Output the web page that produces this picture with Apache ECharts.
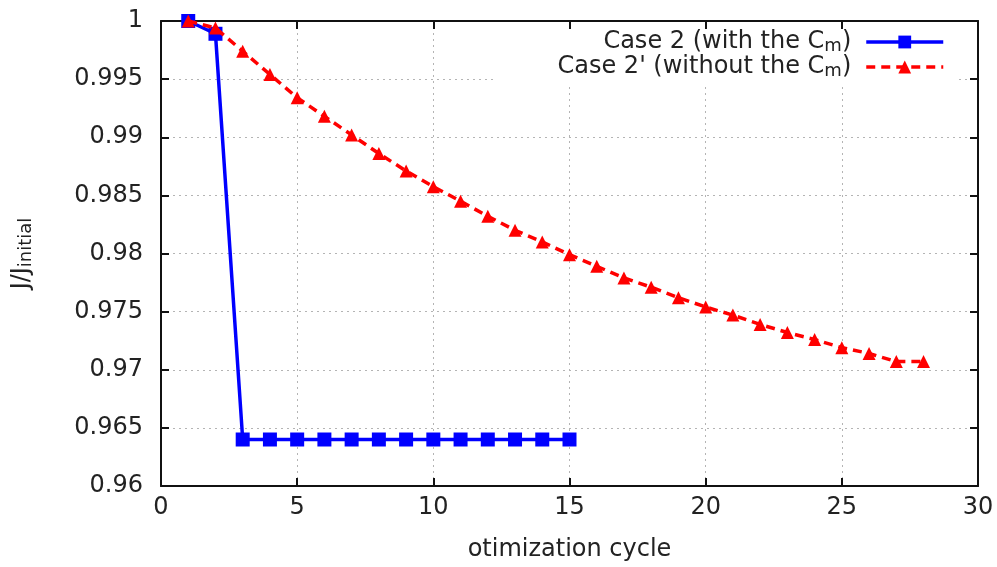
<!DOCTYPE html>
<html>
<head>
<meta charset="utf-8">
<script src="https://cdn.jsdelivr.net/npm/echarts@6/dist/echarts.min.js"></script>
<style>
  html, body { margin: 0; padding: 0; background: #fff; }
  #chart { width: 997px; height: 567px; }
</style>
</head>
<body>
<div id="chart"></div>
<script>
// Optimization history of the normalized objective J/J_initial
const cycles = [1, 2, 3, 4, 5, 6, 7, 8, 9, 10, 11, 12, 13, 14, 15, 16, 17, 18, 19, 20, 21, 22, 23, 24, 25, 26, 27, 28];

// Case 2: with the C_m constraint (15 cycles)
const case2Values = [1.0, 0.9989, 0.964, 0.964, 0.964, 0.964, 0.964, 0.964, 0.964, 0.964, 0.964, 0.964, 0.964, 0.964, 0.964];

// Case 2': without the C_m constraint (28 cycles)
const case2pValues = [1.0, 0.9994, 0.9974, 0.9954, 0.9934, 0.9918, 0.9902, 0.9886, 0.9871, 0.98575, 0.9845, 0.9832, 0.9820, 0.9810, 0.9799,
  0.9789, 0.9779, 0.9771, 0.9762, 0.9754, 0.9747, 0.9739, 0.9732, 0.9726, 0.9719, 0.9714, 0.9707, 0.9707];

const xTicks = { min: 0, max: 30, interval: 5 };
const yTicks = { min: 0.96, max: 1.0, interval: 0.005 };

// legend entries: base text followed by the subscript "m" of C_m
const seriesBase = ['Case 2 (with the C', "Case 2' (without the C"];
const seriesNames = seriesBase.map(b => b + 'm)');

function pairs(values) {
  return values.map((v, i) => [cycles[i], v]);
}

const FONT = 'DejaVu Sans';
const txt = { fontFamily: FONT, fontSize: 24, color: '#222', lineHeight: 26, verticalAlign: 'middle' };
const sub = { fontFamily: FONT, fontSize: 18, color: '#222', lineHeight: 12, verticalAlign: 'bottom' };

const gridLine = { show: true, lineStyle: { color: '#b4b4b4', width: 1, type: [2, 4] } };
const blackLine = { show: true, onZero: false, lineStyle: { color: '#111', width: 2 } };
const inTick = { show: true, inside: true, length: 8, lineStyle: { color: '#111', width: 2 } };

const chart = echarts.init(document.getElementById('chart'), null, { renderer: 'canvas' });

chart.setOption({
  animation: false,
  backgroundColor: '#fff',
  grid: { left: 161, right: 19, top: 21, bottom: 79, containLabel: false },
  legend: {
    orient: 'vertical',
    right: 39,
    top: 29,
    align: 'right',
    padding: [1, 13, 3, 61],
    backgroundColor: '#fff',
    itemWidth: 77,
    itemHeight: 16,
    itemGap: 0,
    data: seriesNames,
    lineStyle: { width: 3.5 },
    formatter: function (name) {
      const base = name.slice(0, -2);
      return '{t|' + base + '}{s|m}{e|)}';
    },
    textStyle: {
      fontFamily: FONT,
      fontSize: 24,
      color: '#222',
      rich: {
        t: txt,
        s: sub,
        e: Object.assign({}, txt, { padding: [0, 10, 0, 0] })
      }
    }
  },
  xAxis: [
    {
      type: 'value',
      min: xTicks.min, max: xTicks.max, interval: xTicks.interval,
      name: 'otimization cycle',
      nameLocation: 'middle',
      nameGap: 52,
      nameTextStyle: { fontFamily: FONT, fontSize: 24, color: '#222' },
      axisLine: blackLine,
      axisTick: inTick,
      axisLabel: { fontFamily: FONT, fontSize: 24, color: '#222', margin: 10 },
      splitLine: gridLine
    },
    {
      type: 'value', position: 'top',
      min: xTicks.min, max: xTicks.max, interval: xTicks.interval,
      axisLine: blackLine,
      axisTick: inTick,
      axisLabel: { show: false },
      splitLine: { show: false }
    }
  ],
  yAxis: [
    {
      type: 'value',
      min: yTicks.min, max: yTicks.max, interval: yTicks.interval,
      name: '{t|J/J}{s|initial}',
      nameLocation: 'middle',
      nameRotate: 90,
      nameGap: 126,
      nameTextStyle: {
        fontFamily: FONT, fontSize: 24, color: '#222',
        rich: { t: txt, s: sub }
      },
      axisLine: blackLine,
      axisTick: inTick,
      axisLabel: { fontFamily: FONT, fontSize: 24, color: '#222', margin: 18 },
      splitLine: gridLine
    },
    {
      type: 'value', position: 'right',
      min: yTicks.min, max: yTicks.max, interval: yTicks.interval,
      axisLine: blackLine,
      axisTick: inTick,
      axisLabel: { show: false },
      splitLine: { show: false }
    }
  ],
  series: [
    {
      name: seriesNames[0],
      type: 'line',
      data: pairs(case2Values),
      symbol: 'rect',
      symbolSize: 14,
      itemStyle: { color: '#0000ff' },
      lineStyle: { color: '#0000ff', width: 3.5 },
      z: 3
    },
    {
      name: seriesNames[1],
      type: 'line',
      data: pairs(case2pValues),
      symbol: 'triangle',
      symbolSize: 13,
      itemStyle: { color: '#ff0000' },
      lineStyle: { color: '#ff0000', width: 3.5, type: [9, 6] },
      z: 4
    }
  ]
});
</script>
</body>
</html>
